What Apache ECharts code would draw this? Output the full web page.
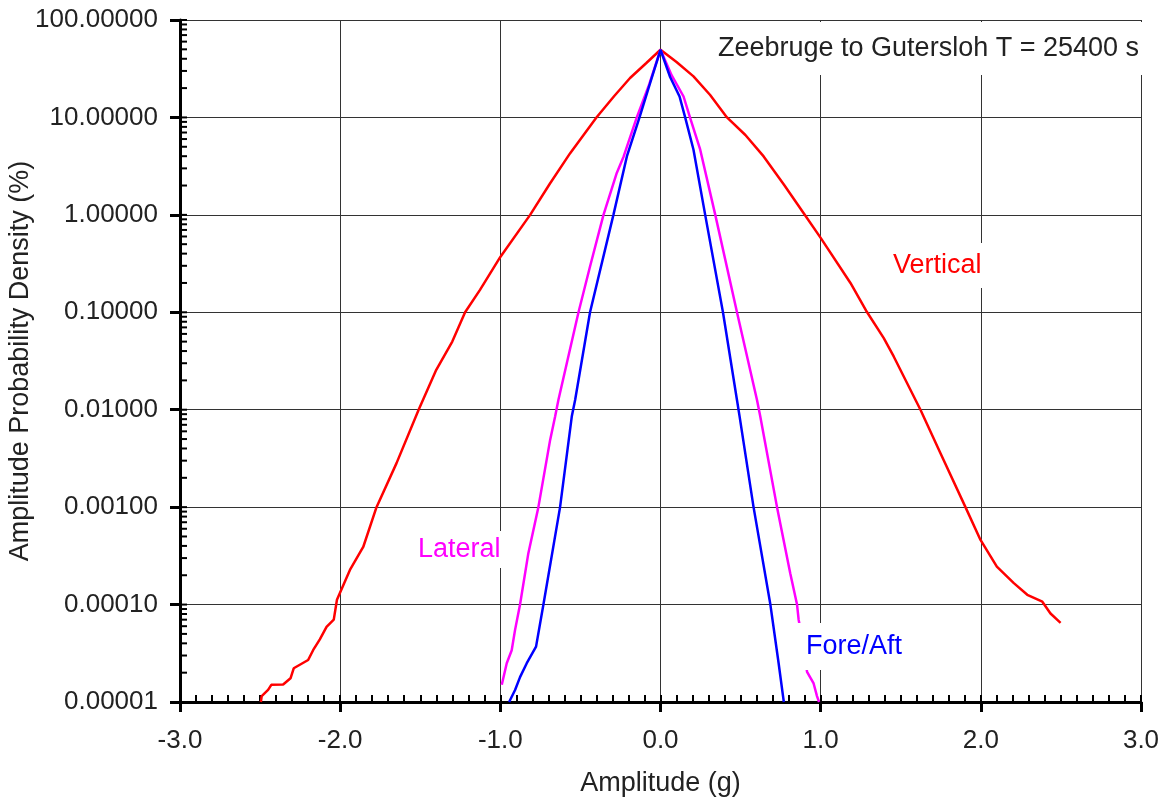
<!DOCTYPE html>
<html>
<head>
<meta charset="utf-8">
<title>Zeebruge to Gutersloh</title>
<script src="https://cdn.jsdelivr.net/npm/echarts@6/dist/echarts.min.js"></script>
<style>
  html, body { margin: 0; padding: 0; background: #fff; }
  #chart { width: 1169px; height: 801px; }
</style>
</head>
<body>
<div id="chart"></div>
<script>
// amplitude (g) / probability density (%)
var vertX = [-2.495, -2.49, -2.45, -2.43, -2.356, -2.31, -2.29, -2.2, -2.169, -2.127, -2.085, -2.04, -2.02,
  -1.939, -1.856, -1.773, -1.648, -1.51, -1.40, -1.30, -1.22, -1.127, -1.0, -0.814, -0.69, -0.564, -0.40, -0.29, -0.19, -0.09, 0,
  0.1, 0.206, 0.31, 0.415, 0.53, 0.644, 0.77, 0.894, 1.0, 1.186, 1.29, 1.394, 1.456, 1.623, 1.748, 1.904, 1.998, 2.10, 2.206,
  2.29, 2.384, 2.435, 2.498];
var vertY = [1e-5, 1.15e-5, 1.33e-5, 1.5e-5, 1.51e-5, 1.75e-5, 2.22e-5, 2.7e-5, 3.4e-5, 4.4e-5, 5.9e-5, 7.0e-5, 1.12e-4,
  2.27e-4, 3.9e-4, 1e-3, 2.83e-3, 0.01, 0.0257, 0.05, 0.1, 0.17, 0.37, 1.0, 2.1, 4.3, 10, 16.5, 25.4, 36, 49.5,
  37, 26.4, 17, 10, 6.6, 3.98, 2.05, 1.04, 0.58, 0.2, 0.1, 0.0543, 0.0352, 0.01, 3.58e-3, 1e-3, 4.61e-4, 2.45e-4, 1.66e-4,
  1.26e-4, 1.07e-4, 8.1e-5, 6.5e-5];

var latX = [-0.991, -0.96, -0.929, -0.908, -0.877, -0.825, -0.7625, -0.689, -0.658, -0.6375, -0.585, -0.512,
  -0.44, -0.356, -0.273, -0.23, -0.148, -0.07, 0,
  0.07, 0.144, 0.184, 0.248, 0.342, 0.4775, 0.6025, 0.623, 0.7275, 0.81, 0.8525, 0.8625, 0.89, 0.915, 0.956, 0.977, 0.99];
var latY = [1.5e-5, 2.5e-5, 3.4e-5, 5.5e-5, 1e-4, 3.37e-4, 1e-3, 4.9e-3, 8.5e-3, 0.0126, 0.030, 0.1,
  0.295, 1, 2.69, 3.98, 10, 22, 49.5,
  27, 16.4, 10, 4.66, 1, 0.1, 0.0126, 8.5e-3, 1e-3, 2.1e-4, 1e-4, 7e-5, 4e-5, 2.04e-5, 1.55e-5, 1.15e-5, 1e-5];

var foreX = [-0.945, -0.908, -0.877, -0.835, -0.777, -0.731, -0.627, -0.554, -0.533, -0.44, -0.294, -0.21,
  -0.131, -0.065, 0,
  0.06, 0.119, 0.154, 0.206, 0.279, 0.39, 0.4775, 0.494, 0.581, 0.686, 0.7375, 0.765, 0.77];
var foreY = [1e-5, 1.33e-5, 1.8e-5, 2.5e-5, 3.7e-5, 1e-4, 1e-3, 8.5e-3, 0.0126, 0.1, 1, 3.98,
  10, 22.5, 49.5,
  26, 16.4, 10, 4.66, 1, 0.1, 0.0126, 8.5e-3, 1e-3, 1e-4, 2.5e-5, 1.15e-5, 1e-5];

var xTicks = [-3, 3, 1];        // min, max, step
var yRange = [1e-5, 100];
var titleText = 'Zeebruge to Gutersloh T = 25400 s';

function pairs(xs, ys) {
  var out = [];
  for (var i = 0; i < xs.length; i++) out.push([xs[i], ys[i]]);
  return out;
}

// log minor ticks 1..9 per decade
var yMinor = [];
for (var k = -5; k <= 1; k++) {
  for (var m = 1; m <= 9; m++) yMinor.push([xTicks[0], m * Math.pow(10, k)]);
}
yMinor.push([xTicks[0], 100]);

var font = 'Liberation Sans, Arial, sans-serif';
var txt = '#222';

var myChart = echarts.init(document.getElementById('chart'));
var option = {
  backgroundColor: '#fff',
  animation: false,
  grid: { left: 180, right: 28, top: 20, bottom: 99, outerBoundsMode: 'none', containLabel: false },
  xAxis: [{
    type: 'value', min: xTicks[0], max: xTicks[1], interval: xTicks[2],
    name: 'Amplitude (g)', nameLocation: 'middle', nameGap: 68, nameMoveOverlap: false,
    nameTextStyle: { fontFamily: font, fontSize: 27, color: txt },
    axisLine: { onZero: false, lineStyle: { color: '#000', width: 3 } },
    axisTick: { inside: false, length: 10, lineStyle: { color: '#000', width: 3 } },
    axisLabel: { fontFamily: font, fontSize: 26, color: txt, margin: 26,
      formatter: function (v) { return v.toFixed(1); } },
    splitLine: { show: true, lineStyle: { color: '#333', width: 1 } }
  }, {
    // inward 0.1 g ticks
    type: 'value', min: xTicks[0], max: xTicks[1], interval: 0.1, position: 'bottom',
    axisLine: { show: false, onZero: false },
    axisTick: { show: true, inside: true, length: 7, lineStyle: { color: '#000', width: 2 } },
    axisLabel: { show: false },
    splitLine: { show: false }
  }],
  yAxis: {
    type: 'log', logBase: 10, min: yRange[0], max: yRange[1],
    name: 'Amplitude Probability Density (%)', nameLocation: 'middle', nameGap: 146, nameMoveOverlap: false,
    nameTextStyle: { fontFamily: font, fontSize: 27, color: txt },
    axisLine: { onZero: false, lineStyle: { color: '#000', width: 3 } },
    axisTick: { inside: false, length: 10, lineStyle: { color: '#000', width: 3 } },
    axisLabel: { fontFamily: font, fontSize: 26, color: txt, margin: 22,
      formatter: function (v) { return v.toFixed(5); } },
    splitLine: { show: true, lineStyle: { color: '#333', width: 1 } }
  },
  series: [
    { name: 'Vertical', type: 'line', data: pairs(vertX, vertY), showSymbol: false,
      lineStyle: { color: '#ff0000', width: 2.5 }, z: 3 },
    { name: 'Lateral', type: 'line', data: pairs(latX, latY), showSymbol: false,
      lineStyle: { color: '#ff00ff', width: 2.5 }, z: 4 },
    { name: 'Fore/Aft', type: 'line', data: pairs(foreX, foreY), showSymbol: false,
      lineStyle: { color: '#0000ff', width: 2.5 }, z: 5 },
    { type: 'custom', data: yMinor, silent: true, clip: false, z: 6,
      renderItem: function (params, api) {
        var p = api.coord([api.value(0), api.value(1)]);
        return { type: 'line', shape: { x1: p[0], y1: p[1], x2: p[0] + 7, y2: p[1] },
          style: { stroke: '#000', lineWidth: 2 } };
      } }
  ],
  graphic: [
    { type: 'text', x: 705, y: 22, z: 100,
      style: { text: titleText, fontFamily: font, fontSize: 27, fill: txt,
        backgroundColor: '#fff', padding: [13, 5, 13, 13] } },
    { type: 'text', x: 880, y: 243, z: 100,
      style: { text: 'Vertical', fontFamily: font, fontSize: 27, fill: '#ff0000',
        backgroundColor: '#fff', padding: [9, 5, 9, 13] } },
    { type: 'text', x: 412, y: 531, z: 100,
      style: { text: 'Lateral', fontFamily: font, fontSize: 27, fill: '#ff00ff',
        backgroundColor: '#fff', padding: [5, 2, 5, 6] } },
    { type: 'text', x: 798, y: 623, z: 100,
      style: { text: 'Fore/Aft', fontFamily: font, fontSize: 27, fill: '#0000ff',
        backgroundColor: '#fff', padding: [10, 6, 10, 8] } }
  ]
};
myChart.setOption(option);
</script>
</body>
</html>
